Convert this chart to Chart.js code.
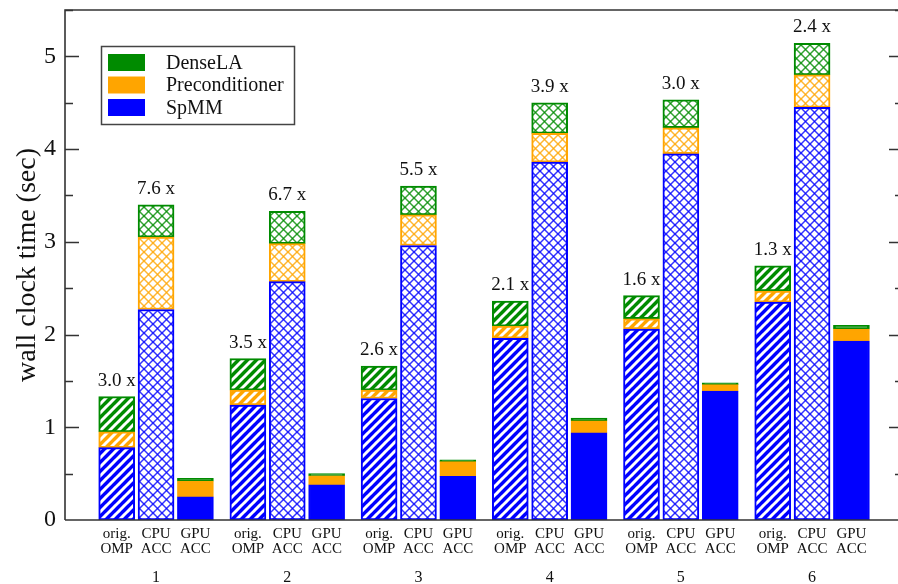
<!DOCTYPE html>
<html>
<head>
<meta charset="utf-8">
<script src="https://cdn.jsdelivr.net/npm/chart.js@4/dist/chart.umd.min.js"></script>
<style>
  html, body { margin: 0; padding: 0; background: #fff; }
  #wrap { width: 898px; height: 584px; }
</style>
</head>
<body>
<div id="wrap"><canvas id="c" width="898" height="584"></canvas></div>
<script>
// Test cases and code variants
const groups = ['1', '2', '3', '4', '5', '6'];
const methods = [['orig.', 'OMP'], ['CPU', 'ACC'], ['GPU', 'ACC']];

// Wall clock time per component (sec), one value per test case
const ompSpMM    = [0.78, 1.24, 1.31, 1.96, 2.06, 2.35];
const ompPrecond = [0.17, 0.16, 0.09, 0.13, 0.11, 0.12];
const ompDense   = [0.38, 0.34, 0.26, 0.27, 0.25, 0.27];

const cpuSpMM    = [2.27, 2.57, 2.96, 3.86, 3.95, 4.45];
const cpuPrecond = [0.78, 0.41, 0.33, 0.31, 0.28, 0.35];
const cpuDense   = [0.35, 0.35, 0.31, 0.33, 0.30, 0.34];

const gpuSpMM    = [0.25, 0.38, 0.47, 0.94, 1.39, 1.93];
const gpuPrecond = [0.17, 0.095, 0.16, 0.13, 0.07, 0.13];
const gpuDense   = [0.03, 0.025, 0.02, 0.03, 0.02, 0.04];

// Speedup of the GPU version over each CPU version
const ompSpeedup = ['3.0 x', '3.5 x', '2.6 x', '2.1 x', '1.6 x', '1.3 x'];
const cpuSpeedup = ['7.6 x', '6.7 x', '5.5 x', '3.9 x', '3.0 x', '2.4 x'];

const yTicks = [0, 1, 2, 3, 4, 5];

const BLUE = '#0000ff', ORANGE = '#ffa500', GREEN = '#008b00';
const SERIF = '"Liberation Serif", "Times New Roman", serif';
const INK = '#111';

// bar slots: three bars per test case, spaced around the group centre
const BAR_STEP = 0.3;
const xPos = groups.flatMap((g, gi) => methods.map((m, mi) => gi + 1 + (mi - 1) * BAR_STEP));
const interleave = (a, b, c) => groups.flatMap((g, i) => [a[i], b[i], c[i]]);
const toPoints = vals => vals.map((v, i) => ({ x: xPos[i], y: v }));

const canvas = document.getElementById('c');
const ctx = canvas.getContext('2d');

// fill patterns: diagonal stripes for orig. OMP, crosshatch for CPU ACC, solid for GPU ACC
function stripePattern(color) {
  const P = 9, t = document.createElement('canvas');
  t.width = t.height = P;
  const g = t.getContext('2d');
  g.fillStyle = color; g.fillRect(0, 0, P, P);
  g.strokeStyle = '#fff'; g.lineWidth = 3.0;
  for (const o of [-P, 0, P]) {
    g.beginPath(); g.moveTo(o - 1, P + 1); g.lineTo(o + P + 1, -1); g.stroke();
  }
  return ctx.createPattern(t, 'repeat');
}
function crossPattern(color) {
  const P = 9, t = document.createElement('canvas');
  t.width = t.height = P;
  const g = t.getContext('2d');
  g.fillStyle = '#fff'; g.fillRect(0, 0, P, P);
  g.strokeStyle = color; g.globalAlpha = 0.8; g.lineWidth = 1.5;
  for (const o of [-P, 0, P]) {
    g.beginPath(); g.moveTo(o - 1, P + 1); g.lineTo(o + P + 1, -1); g.stroke();
    g.beginPath(); g.moveTo(o - 1, -1); g.lineTo(o + P + 1, P + 1); g.stroke();
  }
  return ctx.createPattern(t, 'repeat');
}
const fills = c => [stripePattern(c), crossPattern(c), c];
const fillFor = (set, color) => (context) =>
  context.dataIndex === undefined ? color : set[context.dataIndex % 3];

const blueFills = fills(BLUE), orangeFills = fills(ORANGE), greenFills = fills(GREEN);

const barCommon = {
  stack: 'time',
  borderWidth: 2,
  borderSkipped: false,
  barThickness: 36,
};

// frame, inward ticks on both sides
const framePlugin = {
  id: 'frame',
  afterDatasetsDraw(chart) {
    const { ctx: c, chartArea: a, scales: { y } } = chart;
    const R = a.right + 5;
    c.save();
    c.strokeStyle = '#333';
    c.lineWidth = 1.6;
    c.beginPath();
    c.moveTo(a.left, a.bottom); c.lineTo(a.right, a.bottom);
    c.moveTo(a.left, a.bottom); c.lineTo(a.left, a.top); c.lineTo(a.right, a.top);
    c.stroke();
    c.lineWidth = 1.3;
    c.beginPath();
    for (let v = 0.5; v <= 5.5; v += 0.5) {
      const py = Math.round(y.getPixelForValue(v)) + 0.5;
      const len = Number.isInteger(v) ? 14 : 8;
      c.moveTo(a.left, py); c.lineTo(a.left + len, py);
      c.moveTo(R, py); c.lineTo(R - len, py);
    }
    c.stroke();
    c.restore();
  }
};

// speedup labels above the two CPU bars of each test case
const speedupPlugin = {
  id: 'speedup',
  afterDatasetsDraw(chart) {
    const meta = chart.getDatasetMeta(2);
    const c = chart.ctx;
    c.save();
    c.font = '19px ' + SERIF;
    c.fillStyle = INK;
    c.textAlign = 'center';
    c.textBaseline = 'alphabetic';
    groups.forEach((g, gi) => {
      const a = meta.data[gi * 3], b = meta.data[gi * 3 + 1];
      c.fillText(ompSpeedup[gi], a.x, a.y - 11);
      c.fillText(cpuSpeedup[gi], b.x, b.y - 11);
    });
    c.restore();
  }
};

// boxed legend, top entry = top of the stack
const legendPlugin = {
  id: 'boxLegend',
  afterDraw(chart) {
    const c = chart.ctx;
    const bx = 101, by = 46, bw = 193, bh = 78;
    c.save();
    c.fillStyle = '#fff';
    c.fillRect(bx, by, bw, bh);
    c.strokeStyle = '#444';
    c.lineWidth = 1.5;
    c.strokeRect(bx + 0.5, by + 0.5, bw, bh);
    const items = chart.data.datasets.slice().reverse();
    c.font = '20px ' + SERIF;
    c.textBaseline = 'middle';
    items.forEach((ds, i) => {
      const cy = 62.5 + i * 22.5;
      c.fillStyle = ds.borderColor;
      c.fillRect(108, cy - 8.5, 37, 17);
      c.fillStyle = INK;
      c.fillText(ds.label, 166, cy + 1);
    });
    c.restore();
  }
};

new Chart(canvas, {
  type: 'bar',
  data: {
    datasets: [
      { label: 'SpMM', data: toPoints(interleave(ompSpMM, cpuSpMM, gpuSpMM)),
        backgroundColor: fillFor(blueFills, BLUE), borderColor: BLUE, ...barCommon },
      { label: 'Preconditioner', data: toPoints(interleave(ompPrecond, cpuPrecond, gpuPrecond)),
        backgroundColor: fillFor(orangeFills, ORANGE), borderColor: ORANGE, ...barCommon },
      { label: 'DenseLA', data: toPoints(interleave(ompDense, cpuDense, gpuDense)),
        backgroundColor: fillFor(greenFills, GREEN), borderColor: GREEN, ...barCommon },
    ]
  },
  options: {
    responsive: false,
    devicePixelRatio: 1,
    animation: false,
    events: [],
    layout: { padding: { left: 0, right: 0, top: 10, bottom: 0 } },
    plugins: { legend: { display: false }, tooltip: { enabled: false } },
    scales: {
      x: {
        type: 'linear', min: 0.306, max: 6.655, offset: false,
        grid: { display: false, drawTicks: false }, border: { display: false },
        afterBuildTicks: s => { s.ticks = xPos.map(v => ({ value: v })); },
        afterFit: s => { s.height = 42; s.paddingLeft = 0; s.paddingRight = 0; },
        ticks: {
          autoSkip: false, maxRotation: 0, padding: 6.5, color: INK,
          font: { family: SERIF, size: 15, lineHeight: 1.0 },
          callback: (v, i) => methods[i % 3],
        },
      },
      x2: {
        type: 'linear', position: 'bottom', weight: 1, min: 0.306, max: 6.655, offset: false,
        grid: { display: false, drawTicks: false }, border: { display: false },
        afterBuildTicks: s => { s.ticks = groups.map((g, i) => ({ value: i + 1 })); },
        afterFit: s => { s.height = 22; s.paddingLeft = 0; s.paddingRight = 0; },
        ticks: {
          autoSkip: false, maxRotation: 0, padding: 6, color: INK,
          font: { family: SERIF, size: 16 },
          callback: (v, i) => groups[i],
        },
      },
      y: {
        stacked: true, min: 0, max: 5.5,
        grid: { display: false, drawTicks: false }, border: { display: false },
        afterBuildTicks: s => { s.ticks = yTicks.map(v => ({ value: v })); },
        afterFit: s => { s.width = 65; s.paddingTop = 0; s.paddingBottom = 0; },
        ticks: { padding: 9, color: INK, font: { family: SERIF, size: 24 } },
        title: {
          display: true, text: 'wall clock time (sec)', color: INK,
          font: { family: SERIF, size: 28 }, padding: { top: 11, bottom: 0 },
        },
      },
    },
  },
  plugins: [framePlugin, speedupPlugin, legendPlugin],
});
</script>
</body>
</html>
